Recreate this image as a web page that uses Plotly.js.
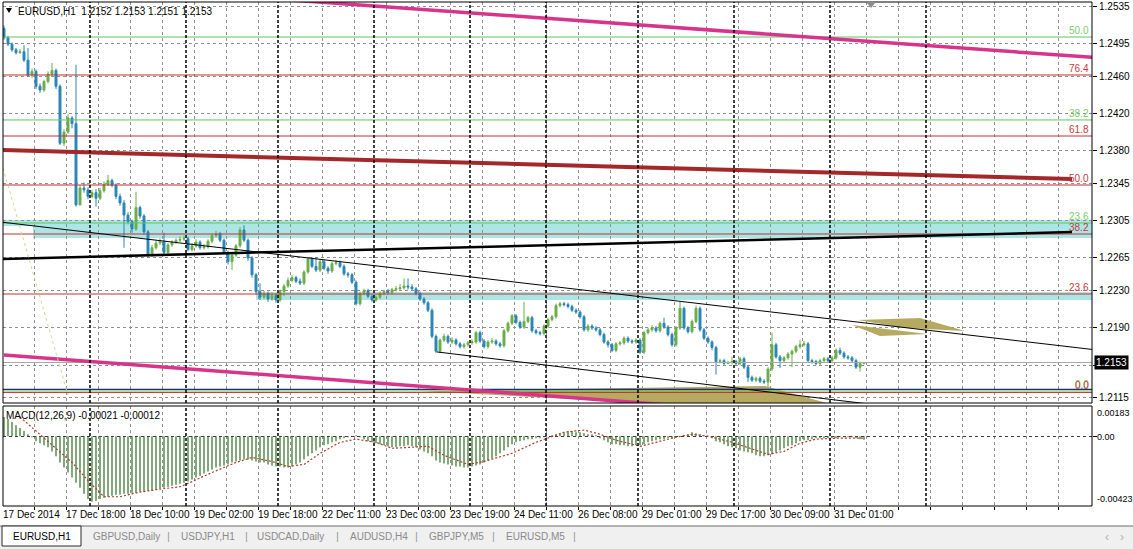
<!DOCTYPE html>
<html><head><meta charset="utf-8">
<script src="https://cdn.plot.ly/plotly-3.0.1.min.js"></script>
<style>html,body{margin:0;padding:0;background:#fff;overflow:hidden}#chart{width:1133px;height:549px}</style>
</head><body><div id="chart"></div>
<script>
// ---------------- DATA ----------------
const symbol = 'EURUSD,H1';
const firstOpen = 1.2511;
const closes = [
 1.2501,1.2494,1.2488,1.2485,1.2486,1.2477,1.2461,1.2465,1.2449,1.2445,
 1.2454,1.2462,1.2466,1.2449,1.2388,1.2400,1.2415,1.2409,1.2322,1.2340,
 1.2338,1.2331,1.2335,1.2329,1.2337,1.2344,1.2348,1.2343,1.2331,1.2324,
 1.2311,1.2304,1.2296,1.2319,1.2310,1.2293,1.2269,1.2276,1.2281,1.2283,
 1.2271,1.2279,1.2282,1.2284,1.2285,1.2286,1.2274,1.2278,1.2282,1.2276,
 1.2277,1.2283,1.2289,1.2291,1.2284,1.2271,1.2261,1.2268,1.2278,1.2295,
 1.2284,1.2265,1.2247,1.2229,1.2223,1.2227,1.2221,1.2225,1.2220,1.2229,
 1.2235,1.2241,1.2244,1.2240,1.2238,1.2250,1.2264,1.2256,1.2252,1.2261,
 1.2254,1.2251,1.2259,1.2260,1.2256,1.2248,1.2247,1.2239,1.2216,1.2227,
 1.2230,1.2224,1.2220,1.2223,1.2227,1.2229,1.2228,1.2231,1.2232,1.2233,
 1.2235,1.2234,1.2232,1.2227,1.2221,1.2217,1.2209,1.2181,1.2165,1.2177,
 1.2181,1.2175,1.2177,1.2173,1.2170,1.2172,1.2174,1.2175,1.2185,1.2176,
 1.2170,1.2175,1.2176,1.2173,1.2171,1.2187,1.2195,1.2203,1.2196,1.2191,
 1.2197,1.2201,1.2187,1.2185,1.2184,1.2192,1.2199,1.2202,1.2214,1.2216,
 1.2215,1.2213,1.2209,1.2207,1.2202,1.2188,1.2192,1.2190,1.2188,1.2183,
 1.2175,1.2172,1.2166,1.2173,1.2174,1.2179,1.2176,1.2175,1.2177,1.2164,
 1.2185,1.2188,1.2190,1.2187,1.2195,1.2191,1.2183,1.2172,1.2190,1.2211,
 1.2190,1.2186,1.2197,1.2211,1.2188,1.2179,1.2175,1.2169,1.2154,1.2155,
 1.2152,1.2153,1.2154,1.2152,1.2157,1.2148,1.2137,1.2134,1.2136,1.2133,
 1.2132,1.2146,1.2172,1.2159,1.2155,1.2158,1.2162,1.2165,1.2170,1.2172,
 1.2173,1.2155,1.2154,1.2152,1.2155,1.2157,1.2155,1.2158,1.2166,1.2163,
 1.2159,1.2158,1.2155,1.2148,1.2152,1.2153];
const highs = [
 1.2514,1.2503,1.2496,1.2490,1.2489,1.2493,1.2490,1.2468,1.2467,1.2452,
 1.2456,1.2465,1.2474,1.2468,1.2451,1.2403,1.2419,1.2417,1.2472,1.2343,
 1.2346,1.2341,1.2338,1.2339,1.2340,1.2347,1.2354,1.2350,1.2345,1.2334,
 1.2327,1.2314,1.2306,1.2336,1.2321,1.2312,1.2295,1.2279,1.2284,1.2286,
 1.2292,1.2281,1.2284,1.2286,1.2288,1.2289,1.2288,1.2281,1.2285,1.2284,
 1.2280,1.2285,1.2291,1.2294,1.2293,1.2286,1.2273,1.2271,1.2280,1.2298,
 1.2300,1.2286,1.2267,1.2249,1.2238,1.2230,1.2229,1.2228,1.2227,1.2231,
 1.2237,1.2244,1.2247,1.2246,1.2243,1.2252,1.2266,1.2266,1.2266,1.2263,
 1.2263,1.2256,1.2261,1.2263,1.2262,1.2258,1.2250,1.2249,1.2241,1.2229,
 1.2232,1.2232,1.2226,1.2225,1.2229,1.2231,1.2232,1.2233,1.2235,1.2237,
 1.2243,1.2243,1.2237,1.2234,1.2229,1.2223,1.2219,1.2211,1.2183,1.2179,
 1.2184,1.2183,1.2180,1.2179,1.2175,1.2174,1.2176,1.2178,1.2187,1.2187,
 1.2178,1.2177,1.2179,1.2178,1.2175,1.2189,1.2197,1.2205,1.2205,1.2198,
 1.2218,1.2203,1.2203,1.2189,1.2187,1.2194,1.2201,1.2204,1.2216,1.2218,
 1.2218,1.2217,1.2215,1.2211,1.2209,1.2204,1.2194,1.2194,1.2192,1.2190,
 1.2185,1.2177,1.2174,1.2175,1.2176,1.2181,1.2181,1.2178,1.2179,1.2179,
 1.2187,1.2190,1.2193,1.2192,1.2197,1.2201,1.2193,1.2185,1.2192,1.2218,
 1.2213,1.2192,1.2199,1.2214,1.2213,1.2190,1.2181,1.2177,1.2171,1.2157,
 1.2157,1.2155,1.2159,1.2156,1.2159,1.2159,1.2150,1.2139,1.2138,1.2138,
 1.2135,1.2148,1.2185,1.2174,1.2161,1.2160,1.2164,1.2167,1.2172,1.2177,
 1.2176,1.2175,1.2157,1.2156,1.2157,1.2159,1.2159,1.2160,1.2168,1.2169,
 1.2165,1.2161,1.2160,1.2157,1.2154,1.2153];
const lows = [
 1.2499,1.2492,1.2486,1.2483,1.2484,1.2475,1.2459,1.2458,1.2446,1.2442,
 1.2443,1.2452,1.2460,1.2446,1.2386,1.2385,1.2398,1.2404,1.2320,1.2321,
 1.2335,1.2328,1.2329,1.2320,1.2327,1.2335,1.2342,1.2341,1.2328,1.2321,
 1.2276,1.2301,1.2292,1.2294,1.2307,1.2290,1.2266,1.2266,1.2274,1.2279,
 1.2269,1.2269,1.2277,1.2280,1.2282,1.2283,1.2272,1.2272,1.2276,1.2274,
 1.2274,1.2275,1.2281,1.2287,1.2282,1.2269,1.2258,1.2252,1.2266,1.2276,
 1.2282,1.2262,1.2244,1.2226,1.2220,1.2221,1.2218,1.2219,1.2217,1.2218,
 1.2224,1.2233,1.2239,1.2238,1.2236,1.2236,1.2248,1.2254,1.2250,1.2250,
 1.2252,1.2248,1.2249,1.2257,1.2254,1.2246,1.2244,1.2237,1.2214,1.2214,
 1.2225,1.2222,1.2218,1.2218,1.2221,1.2225,1.2226,1.2226,1.2229,1.2230,
 1.2231,1.2231,1.2230,1.2225,1.2219,1.2215,1.2207,1.2179,1.2163,1.2163,
 1.2175,1.2173,1.2173,1.2171,1.2168,1.2168,1.2170,1.2172,1.2173,1.2174,
 1.2168,1.2168,1.2173,1.2171,1.2169,1.2169,1.2185,1.2193,1.2194,1.2189,
 1.2189,1.2195,1.2185,1.2183,1.2182,1.2182,1.2190,1.2197,1.2200,1.2212,
 1.2213,1.2211,1.2207,1.2205,1.2200,1.2186,1.2186,1.2188,1.2186,1.2181,
 1.2173,1.2169,1.2164,1.2164,1.2171,1.2172,1.2174,1.2173,1.2173,1.2162,
 1.2162,1.2183,1.2186,1.2185,1.2185,1.2189,1.2181,1.2170,1.2170,1.2188,
 1.2188,1.2184,1.2184,1.2195,1.2186,1.2177,1.2173,1.2166,1.2140,1.2152,
 1.2150,1.2151,1.2151,1.2150,1.2150,1.2146,1.2132,1.2132,1.2132,1.2131,
 1.2130,1.2124,1.2144,1.2157,1.2147,1.2153,1.2156,1.2148,1.2163,1.2168,
 1.2170,1.2153,1.2152,1.2150,1.2150,1.2153,1.2153,1.2153,1.2156,1.2161,
 1.2157,1.2156,1.2153,1.2146,1.2143,1.2151];
const macdMain = [
 0.00116,0.00104,0.00086,0.00067,0.00049,0.00031,0.00012,-0.00006,-0.00031,-0.00043,
 -0.00055,-0.00067,-0.00092,-0.00122,-0.00159,-0.00190,-0.00220,-0.00251,-0.00282,-0.00312,
 -0.00349,-0.00380,-0.00398,-0.00392,-0.00380,-0.00373,-0.00367,-0.00361,-0.00355,-0.00355,
 -0.00349,-0.00349,-0.00343,-0.00343,-0.00337,-0.00337,-0.00331,-0.00331,-0.00324,-0.00318,
 -0.00312,-0.00306,-0.00300,-0.00294,-0.00288,-0.00282,-0.00275,-0.00263,-0.00251,-0.00239,
 -0.00226,-0.00214,-0.00202,-0.00190,-0.00184,-0.00178,-0.00171,-0.00159,-0.00153,-0.00147,
 -0.00141,-0.00141,-0.00147,-0.00153,-0.00159,-0.00159,-0.00171,-0.00178,-0.00184,-0.00184,
 -0.00190,-0.00190,-0.00184,-0.00171,-0.00159,-0.00141,-0.00122,-0.00104,-0.00086,-0.00067,
 -0.00055,-0.00049,-0.00037,-0.00031,-0.00018,-0.00012,-0.00006,0.00000,0.00006,-0.00006,
 -0.00018,-0.00031,-0.00037,-0.00043,-0.00049,-0.00055,-0.00061,-0.00067,-0.00067,-0.00061,
 -0.00061,-0.00055,-0.00061,-0.00067,-0.00080,-0.00092,-0.00104,-0.00122,-0.00147,-0.00159,
 -0.00165,-0.00171,-0.00178,-0.00184,-0.00184,-0.00190,-0.00190,-0.00184,-0.00178,-0.00171,
 -0.00159,-0.00147,-0.00135,-0.00122,-0.00104,-0.00086,-0.00067,-0.00049,-0.00037,-0.00031,
 -0.00024,-0.00018,-0.00018,-0.00012,-0.00012,-0.00006,0.00000,0.00006,0.00012,0.00018,
 0.00024,0.00031,0.00031,0.00024,0.00024,0.00018,0.00012,0.00012,0.00006,-0.00012,
 -0.00024,-0.00037,-0.00049,-0.00049,-0.00055,-0.00055,-0.00061,-0.00061,-0.00055,-0.00055,
 -0.00049,-0.00037,-0.00031,-0.00024,-0.00018,-0.00018,-0.00012,-0.00012,-0.00006,0.00000,
 0.00006,0.00012,0.00024,0.00018,0.00012,0.00006,0.00000,-0.00012,-0.00031,-0.00037,
 -0.00049,-0.00061,-0.00067,-0.00073,-0.00086,-0.00092,-0.00098,-0.00104,-0.00116,-0.00122,
 -0.00122,-0.00116,-0.00110,-0.00098,-0.00086,-0.00073,-0.00061,-0.00055,-0.00043,-0.00031,
 -0.00024,-0.00024,-0.00018,-0.00012,-0.00012,-0.00012,-0.00012,-0.00012,-0.00012,-0.00006,
 -0.00006,-0.00006,-0.00006,-0.00012,-0.00018,-0.00021];
const signalBars = [4,8,12,17,21,25,29,33,38,44,47,52,58,62,67,71,75,79,84,88,93,97,102,106,110,116,120,127,133,137,140,145,149,153,159,163,168,172,176,182,187,191,195,199,203,208,215];
const signalVals = [0.00116,0.00031,-0.00055,-0.00159,-0.00269,-0.00367,-0.00367,-0.00343,-0.00324,-0.00306,
 -0.00275,-0.00220,-0.00159,-0.00129,-0.00153,-0.00184,-0.00171,-0.00104,-0.00037,-0.00018,
 -0.00037,-0.00073,-0.00067,-0.00061,-0.00116,-0.00171,-0.00153,-0.00104,-0.00037,0.00000,
 0.00024,0.00037,0.00012,-0.00024,-0.00061,-0.00037,-0.00006,0.00012,0.00000,-0.00037,
 -0.00080,-0.00110,-0.00092,-0.00043,-0.00018,-0.00012,-0.00012];

const priceTicks = [1.2535,1.2495,1.2460,1.2420,1.2380,1.2345,1.2305,1.2265,1.2230,1.2190,1.2150,1.2115];
const priceTickText = ['1.2535','1.2495','1.2460','1.2420','1.2380','1.2345','1.2305','1.2265','1.2230','1.2190','','1.2115'];
const macdAxisLabels = ['0.00183','0.00','-0.00423'];

const dateLabelBars = [0,16,32,48,64,80,96,112,128,144,160,176,192,208];
const dateLabels = ['17 Dec 2014','17 Dec 18:00','18 Dec 10:00','19 Dec 02:00','19 Dec 18:00','22 Dec 11:00','23 Dec 03:00','23 Dec 19:00','24 Dec 11:00','26 Dec 08:00','29 Dec 01:00','29 Dec 17:00','30 Dec 09:00','31 Dec 01:00'];
const daySeparatorBars = [22,46,69,93,117,136,159,183,207,231];

const fibRedLevels = ['0.0','23.6','38.2','50.0','61.8','76.4'];
const fibRedPrices = [1.21209,1.22264,1.22907,1.23432,1.23957,1.24611];
const fibGreenLevels = ['0.0','23.6','38.2','50.0'];
const fibGreenPrices = [1.21225,1.23025,1.24129,1.25018];
const supportLinePrice = 1.21241;

// chart objects as [bar, price] points
const channelTop = [[60,1.2545],[272,1.2480]];
const channelBottom = [[0,1.21611],[174,1.21050]];
const thickRedLine = [[-1,1.23807],[267,1.23496]];
const thickBlackLine = [[-1,1.22639],[267,1.22928]];
const trendUpper = [[-1,1.23036],[272,1.21670]];
const trendLower = [[108.25,1.21643],[216,1.21086]];
const fibTrendLine = [[-0.25,1.23614],[16,1.21182]];
const oliveTriangle = [[104,1.21225],[190.25,1.21279],[216.5,1.20968]];
const oliveUpper = [[213.5,1.21986],[229,1.22007],[240.25,1.21868],[225.25,1.21900]];
const oliveLower = [[212,1.21932],[224,1.21868],[231,1.21836],[219,1.21814]];
// rectangles [bar0, bar1, price0, price1]
const rectObjects = [[-0.25,272,1.22993,1.23057],[7.25,272,1.22864,1.22993],[63,272,1.22200,1.22286]];

const tabLabels = ['EURUSD,H1','GBPUSD,Daily','USDJPY,H1','USDCAD,Daily','AUDUSD,H4','GBPJPY,M5','EURUSD,M5'];

// ---------------- LAYOUT HELPERS ----------------
const PL = 3, PR = 1092, PT = 2, PB = 506;
const PX = px => (px - PL) / (PR - PL);
const PY = py => (PB - py) / (PB - PT);
const XR = [-0.25, 272];
const YR = [1.21096, 1.25393];
const Y2R = [-0.00423, 0.00183];
const FONT = 'Liberation Sans, Arial, sans-serif';
const BULL = '#6aae48', BEAR = '#2986b6';

const n = closes.length;
const idx = closes.map((_, i) => i);
const opens = [firstOpen].concat(closes.slice(0, -1));

function seg(points, color, width, dash, yaxis) {
  return {type:'scatter', mode:'lines', x: points.map(p => p[0]), y: points.map(p => p[1]),
    line:{color, width, dash: dash || 'solid'}, xaxis:'x', yaxis: yaxis || 'y', hoverinfo:'skip', showlegend:false};
}
function poly(points, color) {
  const pts = points.concat([points[0]]);
  return {type:'scatter', mode:'lines', x: pts.map(p => p[0]), y: pts.map(p => p[1]), fill:'toself',
    fillcolor: color, line:{width:0, color: color}, xaxis:'x', yaxis:'y', hoverinfo:'skip', showlegend:false};
}
function hline(price, color, width) { return seg([[XR[0], price],[XR[1], price]], color, width); }

const traces = [];
traces.push(poly(oliveTriangle, '#b6aa62'));
traces.push(poly(oliveUpper, '#b6aa62'));
traces.push(poly(oliveLower, '#b6aa62'));
fibGreenPrices.forEach(p => traces.push(hline(p, '#5fc45f', 1)));
fibRedPrices.forEach(p => traces.push(hline(p, '#c43030', 1)));
traces.push(hline(supportLinePrice, '#1c2f6e', 1.2));
traces.push(hline(closes[n-1], '#a8a8a8', 1));
traces.push({type:'candlestick', x: idx, open: opens, high: highs, low: lows, close: closes,
  increasing:{line:{color:BULL, width:1}, fillcolor:BULL},
  decreasing:{line:{color:BEAR, width:1}, fillcolor:BEAR},
  whiskerwidth:0, xaxis:'x', yaxis:'y', hoverinfo:'skip', showlegend:false});
traces.push(seg(thickRedLine, '#a3282a', 4));
traces.push(seg(thickBlackLine, '#000000', 2.5));
traces.push(seg(channelTop, '#d6358b', 3.5));
traces.push(seg(channelBottom, '#d6358b', 3.5));
traces.push(seg(trendUpper, '#000000', 1));
traces.push(seg(trendLower, '#000000', 1));
traces.push(seg(fibTrendLine, '#c6dc98', 1, 'dot'));
function sepTrace(yaxis, r) {
  const xs = [], ys = [];
  daySeparatorBars.forEach(b => { xs.push(b - 0.5, b - 0.5, null); ys.push(r[0], r[1], null); });
  return {type:'scatter', mode:'lines', x: xs, y: ys, line:{color:'#000', width:1.5, dash:'3px,2px'},
    xaxis:'x', yaxis, hoverinfo:'skip', showlegend:false};
}
traces.push(sepTrace('y', YR));
traces.push({type:'bar', x: idx, y: macdMain, width:0.3, marker:{color:'#2e6e22', line:{width:0}},
  xaxis:'x', yaxis:'y2', hoverinfo:'skip', showlegend:false});
traces.push(seg(signalBars.map((b, i) => [b, signalVals[i]]), '#b03a2a', 1.2, '2px,2px', 'y2'));
traces.push(sepTrace('y2', Y2R));

const shapes = [];
rectObjects.forEach(r => shapes.push({type:'rect', xref:'x', yref:'y', x0:r[0], x1:r[1], y0:r[2], y1:r[3],
  fillcolor:'#ace5e5', line:{width:0}, layer:'below'}));
shapes.push({type:'rect', xref:'paper', yref:'paper', x0:0, x1:1, y0:PY(403), y1:1, line:{color:'#000', width:1}, layer:'above'});
shapes.push({type:'rect', xref:'paper', yref:'paper', x0:0, x1:1, y0:0, y1:PY(406), line:{color:'#000', width:1}, layer:'above'});
shapes.push({type:'rect', xref:'paper', yref:'paper', x0:PX(0), x1:PX(1133), y0:PY(549), y1:PY(526), fillcolor:'#f0f0f0', line:{width:0}});
shapes.push({type:'line', xref:'paper', yref:'paper', x0:PX(0), x1:PX(1133), y0:PY(526), y1:PY(526), line:{color:'#6a6a6a', width:1}});
shapes.push({type:'rect', xref:'paper', yref:'paper', x0:PX(2), x1:PX(81), y0:PY(546), y1:PY(526), fillcolor:'#ffffff', line:{color:'#2a2a2a', width:1}});
shapes.push({type:'path', xref:'paper', yref:'paper', path:`M ${PX(6)},${PY(8)} L ${PX(12)},${PY(8)} L ${PX(9)},${PY(13)} Z`, fillcolor:'#000', line:{width:0}});
shapes.push({type:'path', xref:'paper', yref:'paper', path:`M ${PX(866)},${PY(2)} L ${PX(876)},${PY(2)} L ${PX(871)},${PY(8)} Z`, fillcolor:'#8e8e8e', line:{width:0}});

const ann = [];
const txt = (o) => Object.assign({showarrow:false, font:{family:FONT, size:10, color:'#000'}}, o);
ann.push(txt({xref:'paper', yref:'paper', x:PX(16), y:PY(11), xanchor:'left', yanchor:'middle',
  text:`${symbol}\u00a0\u00a0${opens[n-1].toFixed(4)} ${highs[n-1].toFixed(4)} ${lows[n-1].toFixed(4)} ${closes[n-1].toFixed(4)}`}));
ann.push(txt({xref:'paper', yref:'paper', x:PX(4), y:PY(415), xanchor:'left', yanchor:'middle',
  text:`MACD(12,26,9) ${macdMain[n-1].toFixed(5)} ${signalVals[signalVals.length-1].toFixed(5)}`}));
fibGreenLevels.forEach((l, i) => ann.push(txt({xref:'paper', yref:'y', x:1, xshift:-1, y:fibGreenPrices[i], yshift:-1,
  xanchor:'right', yanchor:'bottom', text:l, font:{family:FONT, size:10, color:'#7ccc6c'}})));
fibRedLevels.forEach((l, i) => ann.push(txt({xref:'paper', yref:'y', x:1, xshift:-1, y:fibRedPrices[i], yshift:-1,
  xanchor:'right', yanchor:'bottom', text:l, font:{family:FONT, size:10, color:'#c43a3a'}})));
ann.push(txt({xref:'paper', yref:'y', x:1, xshift:2, y:closes[n-1], xanchor:'left', yanchor:'middle',
  text:closes[n-1].toFixed(4), bgcolor:'#000', borderpad:1, font:{family:FONT, size:10, color:'#fff'}}));
macdAxisLabels.forEach((l, i) => ann.push(txt({xref:'paper', yref:'paper', x:PX(1095), xanchor:'left', yanchor:'middle',
  y: PY([413, 437, 499][i]), text:l, font:{family:FONT, size:9, color:'#000'}})));
dateLabelBars.forEach((b, i) => ann.push(txt({xref:'x', yref:'paper', x:Math.max(b - 0.5, XR[0]), y:PY(514), xanchor:'left', yanchor:'middle',
  xshift: -2, text:dateLabels[i]})));
const tabX = [11, 91, 179, 255, 348, 427, 504];
tabLabels.forEach((l, i) => ann.push(txt({xref:'paper', yref:'paper', x:PX(tabX[i]), y:PY(536), xanchor:'left', yanchor:'middle',
  text:l, font:{family:FONT, size:10, color: i === 0 ? '#000' : '#8a8a8a'}})));
[168, 246, 337, 416, 493, 574].forEach(x => ann.push(txt({xref:'paper', yref:'paper', x:PX(x), y:PY(536), xanchor:'center', yanchor:'middle',
  text:'|', font:{family:FONT, size:11, color:'#9a9a9a'}})));
ann.push(txt({xref:'paper', yref:'paper', x:PX(1107), y:PY(537), xanchor:'center', yanchor:'middle', text:'\u2039', font:{family:FONT, size:12, color:'#b0b0b0'}}));
ann.push(txt({xref:'paper', yref:'paper', x:PX(1122), y:PY(537), xanchor:'center', yanchor:'middle', text:'\u203a', font:{family:FONT, size:12, color:'#b0b0b0'}}));

const gridX = Array.from({length:33}, (_, k) => 8 * (k + 1) - 0.5);

const layout = {
  width:1133, height:549, margin:{l:PL, r:1133 - PR, t:PT, b:549 - PB, pad:0},
  paper_bgcolor:'#ffffff', plot_bgcolor:'#ffffff', showlegend:false, hovermode:false,
  boxgap:0.3, boxgroupgap:0.3, barmode:'overlay',
  xaxis:{range:XR, anchor:'y2', showgrid:true, gridcolor:'#909090', griddash:'3px,3px', gridwidth:1,
    tickmode:'array', tickvals:gridX, showticklabels:false, ticks:'outside', ticklen:3, tickcolor:'#000',
    zeroline:false, showline:false, rangeslider:{visible:false}, fixedrange:true},
  yaxis:{domain:[PY(403), 1], range:YR, side:'right', anchor:'x', tickmode:'array', tickvals:priceTicks, ticktext:priceTickText,
    ticks:'outside', ticklen:4, tickcolor:'#000', tickfont:{family:FONT, size:10, color:'#000'},
    showgrid:true, gridcolor:'#909090', griddash:'3px,3px', gridwidth:1, zeroline:false, showline:false, fixedrange:true},
  yaxis2:{domain:[0, PY(406)], range:Y2R, side:'right', anchor:'x', tickmode:'array', tickvals:[0], ticktext:[''],
    ticks:'outside', ticklen:4, tickcolor:'#000', showgrid:true, gridcolor:'#3a3a3a', griddash:'3px,3px',
    zeroline:false, showline:false, fixedrange:true},
  shapes, annotations: ann
};

Plotly.newPlot('chart', traces, layout, {staticPlot:true, displayModeBar:false});
</script>
</body></html>
